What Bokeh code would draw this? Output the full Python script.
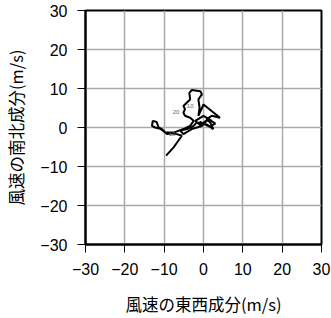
from bokeh.plotting import figure
from bokeh.models import Range1d, FixedTicker, CustomJSTickFormatter
from bokeh.core.properties import value
from bokeh.embed import file_html
from bokeh.resources import INLINE

# wind hodograph: east-west (u) and north-south (v) components, m/s
u = [-9.5, -7.6, -6.4, -5.5, -6.8, -8.1, -9.3, -10.6, -11.4, -11.9, -12.9, -13.1,
     -12.3, -11.0, -9.7, -7.6, -5.1, -3.4, -2.5, -3.4, -4.7, -5.1, -4.7, -5.1,
     -4.2, -3.4, -3.6, -3.0, -0.8, -0.4, -1.3, -1.0, -1.3, 0.0, 4.2, 2.1, 0.8,
     1.7, 2.5, 0.8, -1.7, -2.5, -4.2, -5.9, -5.1, -3.0, -0.4, 0.8, 2.1, 0.0,
     -2.1, -0.8, 1.2, 3.0, 1.5, -1.0]
v = [-7.2, -5.1, -3.4, -2.1, -1.7, -1.5, -1.7, -0.4, 0.0, 1.4, 1.7, 0.4,
     0.0, -0.3, -1.3, -1.3, -0.4, 0.4, 1.7, 2.5, 3.0, 3.8, 4.7, 5.5,
     6.4, 7.2, 8.9, 9.6, 9.3, 8.5, 7.2, 5.1, 3.0, 5.9, 2.5, 3.0, 2.1,
     1.3, -0.4, 0.8, 1.3, 0.4, -0.4, -0.8, -1.7, -0.4, 0.4, 1.7, 1.7, 3.0,
     1.7, 0.6, 2.2, 1.0, 0.2, 1.5]

label_u = [-8.0, -7.0, -3.4]
label_v = [-1.6, 4.0, 5.5]
label_text = ["10", "20", "10"]

ticks = [-30, -20, -10, 0, 10, 20, 30]
grid_ticks = [-20, -10, 0, 10, 20]

FONT = "Liberation Sans"
JFONT = "Noto Sans CJK JP"

p = figure(width=331, height=318, output_backend="svg", toolbar_location=None,
           x_range=Range1d(-30, 30), y_range=Range1d(-30, 30),
           min_border_left=85, min_border_right=10, min_border_top=10,
           min_border_bottom=72)
p.background_fill_color = "white"
p.border_fill_color = "white"
p.outline_line_color = "black"
p.outline_line_width = 2

fmt = CustomJSTickFormatter(code="return tick.toString().replace('-', '\u2212');")
for ax in (p.xaxis[0], p.yaxis[0]):
    ax.ticker = FixedTicker(ticks=ticks)
    ax.formatter = fmt
    ax.major_tick_in = 0
    ax.major_tick_out = 8
    ax.minor_tick_out = 0
    ax.minor_tick_in = 0
    ax.major_tick_line_color = "black"
    ax.major_tick_line_width = 1
    ax.axis_line_color = "black"
    ax.axis_line_width = 2
    ax.major_label_text_font = FONT
    ax.major_label_text_font_size = "16px"
    ax.major_label_text_color = "black"
    ax.major_label_standoff = 10
    ax.axis_label_text_font = JFONT
    ax.axis_label_text_font_size = "16.5px"
    ax.axis_label_text_font_style = "normal"
    ax.axis_label_text_color = "black"

p.xaxis[0].axis_label_standoff = 14
p.yaxis[0].axis_label_standoff = 9

p.xaxis.axis_label = "風速の東西成分(m/s)"
p.yaxis.axis_label = "風速の南北成分(m/s)"

p.xgrid.ticker = FixedTicker(ticks=grid_ticks)
p.ygrid.ticker = FixedTicker(ticks=grid_ticks)
p.grid.grid_line_color = "#aaaaaa"
p.grid.grid_line_width = 1.5

p.line(u, v, line_color="black", line_width=2)
p.text(label_u, label_v, text=label_text, text_font=value(FONT),
       text_font_size="6px", text_color="#666666", text_align="center",
       text_baseline="middle")

open("out.html", "w").write(file_html(p, INLINE))
